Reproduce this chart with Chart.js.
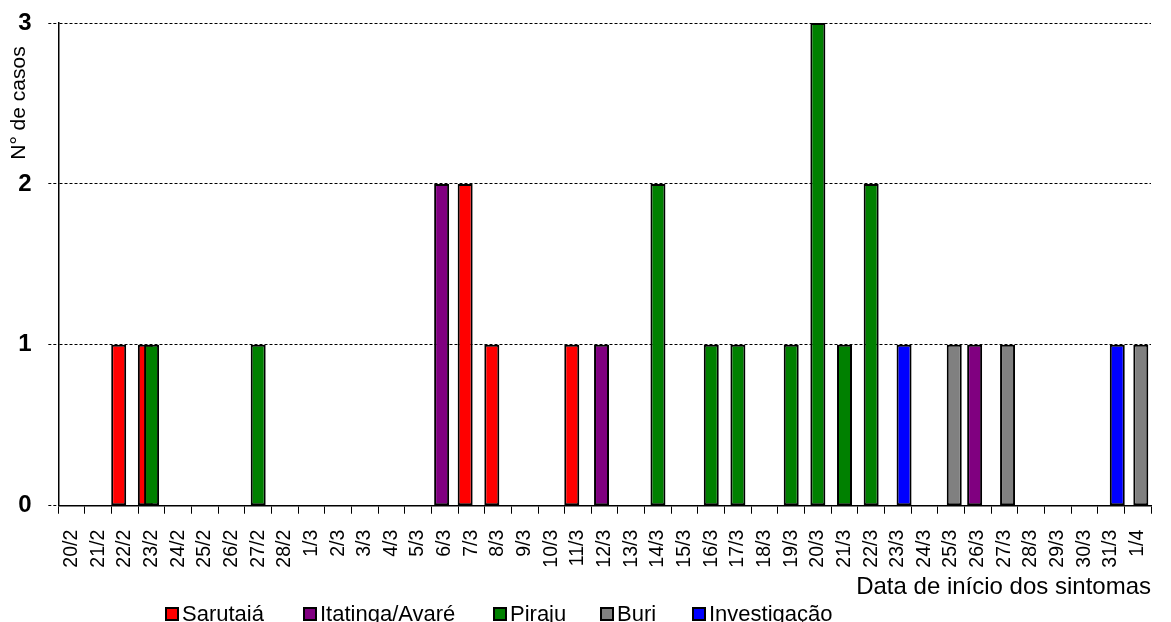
<!DOCTYPE html>
<html>
<head>
<meta charset="utf-8">
<script src="https://cdn.jsdelivr.net/npm/chart.js@4.4.1/dist/chart.umd.min.js"></script>
<style>
  body { margin: 0; background: #fff; overflow: hidden; }
  #wrap { position: relative; width: 1171px; height: 622px; }
  #legend { position: absolute; top: 603px; left: 0; width: 1171px; height: 30px;
            font: 22px Arial, "Liberation Sans", sans-serif; color: #000; }
  .item { position: absolute; top: 0; display: flex; align-items: flex-start; line-height: 22px; white-space: nowrap; }
  .box { display: inline-block; width: 10px; height: 10px; border: 2px solid #000; margin-top: 4px; margin-right: 3px; }
</style>
</head>
<body>
<div id="wrap">
  <canvas id="casesChart" width="1171" height="622"></canvas>
  <div id="legend"></div>
</div>
<script>
// dias (data de inicio dos sintomas)
const dias = ['20/2', '21/2', '22/2', '23/2', '24/2', '25/2', '26/2', '27/2', '28/2',
  '1/3', '2/3', '3/3', '4/3', '5/3', '6/3', '7/3', '8/3', '9/3', '10/3', '11/3',
  '12/3', '13/3', '14/3', '15/3', '16/3', '17/3', '18/3', '19/3', '20/3', '21/3',
  '22/3', '23/3', '24/3', '25/3', '26/3', '27/3', '28/3', '29/3', '30/3', '31/3', '1/4'];

const sarutaia = [0, 0, 1, 1, 0, 0, 0, 0, 0, 0,
  0, 0, 0, 0, 0, 2, 1, 0, 0, 1,
  0, 0, 0, 0, 0, 0, 0, 0, 0, 0,
  0, 0, 0, 0, 0, 0, 0, 0, 0, 0, 0];
const itatinga = [0, 0, 0, 0, 0, 0, 0, 0, 0, 0,
  0, 0, 0, 0, 2, 0, 0, 0, 0, 0,
  1, 0, 0, 0, 0, 0, 0, 0, 0, 0,
  0, 0, 0, 0, 1, 0, 0, 0, 0, 0, 0];
const piraju = [0, 0, 0, 1, 0, 0, 0, 1, 0, 0,
  0, 0, 0, 0, 0, 0, 0, 0, 0, 0,
  0, 0, 2, 0, 1, 1, 0, 1, 3, 1,
  2, 0, 0, 0, 0, 0, 0, 0, 0, 0, 0];
const buri = [0, 0, 0, 0, 0, 0, 0, 0, 0, 0,
  0, 0, 0, 0, 0, 0, 0, 0, 0, 0,
  0, 0, 0, 0, 0, 0, 0, 0, 0, 0,
  0, 0, 0, 1, 0, 1, 0, 0, 0, 0, 1];
const investigacao = [0, 0, 0, 0, 0, 0, 0, 0, 0, 0,
  0, 0, 0, 0, 0, 0, 0, 0, 0, 0,
  0, 0, 0, 0, 0, 0, 0, 0, 0, 0,
  0, 1, 0, 0, 0, 0, 0, 0, 0, 1, 0];

const yTicks = [0, 1, 2, 3];

const seriesNames = ['Sarutaiá', 'Itatinga/Avaré', 'Piraju', 'Buri', 'Investigação'];
const seriesValues = [sarutaia, itatinga, piraju, buri, investigacao];
const seriesColors = ['#FF0000', '#800080', '#008000', '#808080', '#0000FF'];

// where each legend entry starts (px)
const legendX = [165, 303, 493, 600, 692];

Chart.defaults.font.family = 'Arial, "Liberation Sans", sans-serif';
Chart.defaults.color = '#000';

// draw datasets first-to-last so later series sit on top (like Excel)
const drawInOrder = {
    id: 'drawInOrder',
    beforeDatasetsDraw(chart) {
        chart.getSortedVisibleDatasetMetas().forEach(meta => meta.controller.draw());
        return false;
    }
};

const ctx = document.getElementById('casesChart').getContext('2d');
const chart = new Chart(ctx, {
    type: 'bar',
    data: {
        labels: dias,
        datasets: seriesNames.map((name, i) => ({
            label: name,
            data: seriesValues[i],
            backgroundColor: seriesColors[i],
            borderColor: '#000',
            borderWidth: 2,
            borderSkipped: false,
            categoryPercentage: 0.586,
            barPercentage: 4.8
        }))
    },
    options: {
        responsive: false,
        animation: false,
        layout: {
            padding: { top: 23, right: 20, bottom: 0, left: 0 }
        },
        plugins: {
            legend: { display: false },
            tooltip: { enabled: false }
        },
        scales: {
            x: {
                grid: {
                    drawOnChartArea: false,
                    drawTicks: true,
                    tickLength: 8,
                    tickColor: '#000',
                    offset: true
                },
                border: { color: '#000', width: 1.5 },
                ticks: {
                    autoSkip: false,
                    minRotation: 90,
                    maxRotation: 90,
                    padding: 16,
                    font: { size: 19.5, lineHeight: 0.8 }
                },
                title: {
                    display: true,
                    text: 'Data de início dos sintomas',
                    align: 'end',
                    font: { size: 24 },
                    padding: { top: -10.5, bottom: 20 }
                }
            },
            y: {
                min: yTicks[0],
                max: yTicks[yTicks.length - 1],
                grid: {
                    color: '#000',
                    lineWidth: 1,
                    tickLength: 10,
                    tickBorderDash: [3, 2]
                },
                border: { color: '#000', width: 1.5, dash: [3, 2] },
                ticks: {
                    stepSize: 1,
                    padding: 10,
                    font: { size: 24, weight: 'bold', lineHeight: 1.05 },
                    callback: function(value) {
                        return value + ' ';
                    }
                },
                title: {
                    display: true,
                    text: 'N° de casos    ',
                    align: 'end',
                    font: { size: 21 },
                    padding: { top: 6.9, bottom: -23.8 }
                }
            }
        }
    },
    plugins: [drawInOrder]
});

// legend under the chart
const legendEl = document.getElementById('legend');
seriesNames.forEach((name, i) => {
    const item = document.createElement('div');
    item.className = 'item';
    item.style.left = legendX[i] + 'px';
    const box = document.createElement('span');
    box.className = 'box';
    box.style.background = seriesColors[i];
    item.appendChild(box);
    item.appendChild(document.createTextNode(name));
    legendEl.appendChild(item);
});
</script>
</body>
</html>
